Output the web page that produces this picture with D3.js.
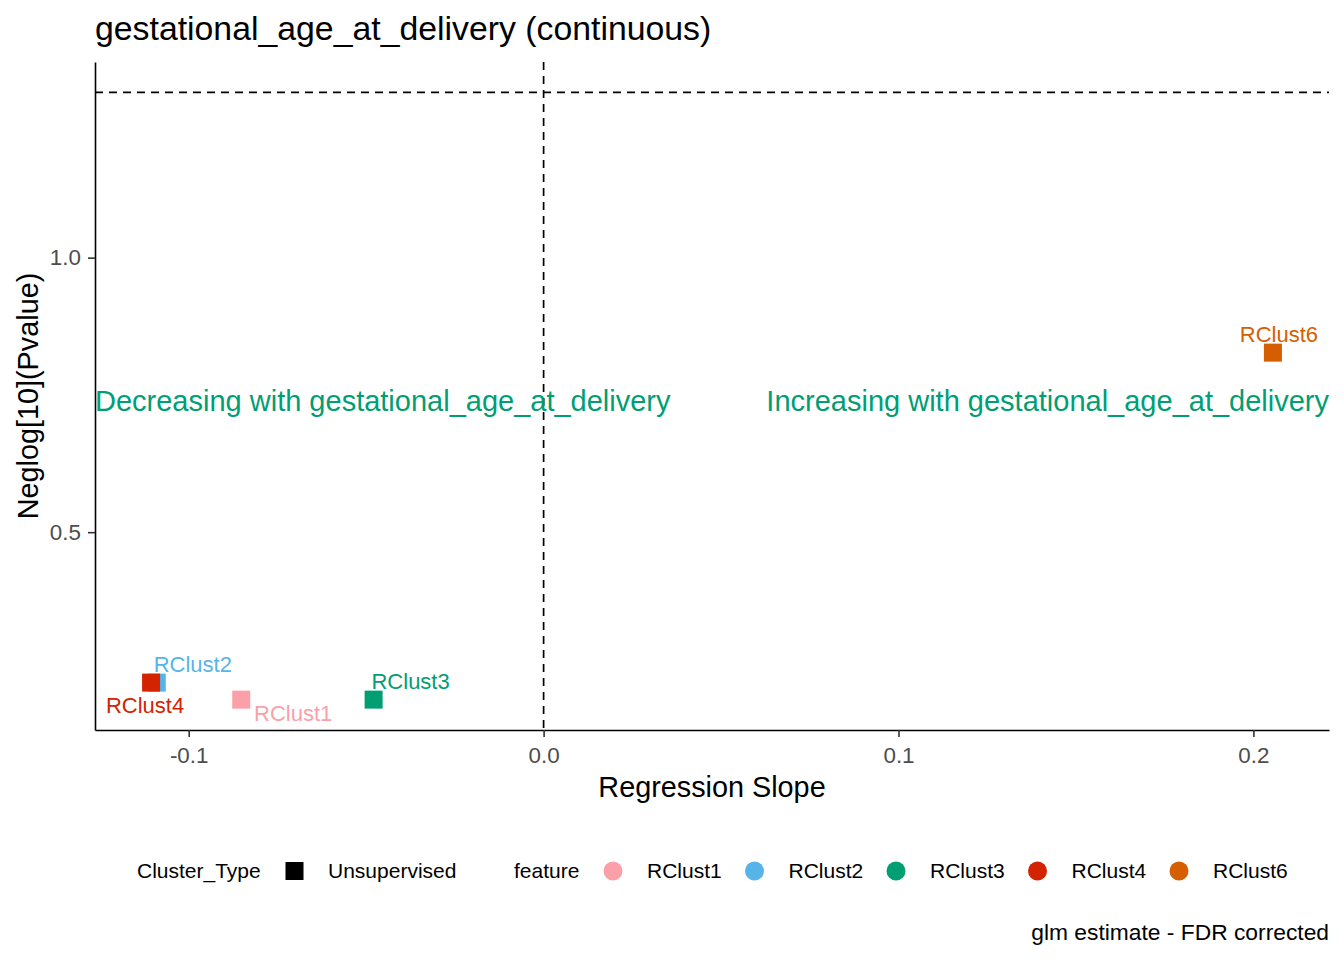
<!DOCTYPE html>
<html>
<head>
<meta charset="utf-8">
<script src="https://cdn.jsdelivr.net/npm/d3@7"></script>
<style>
  body { margin: 0; background: #fff; }
  svg { display: block; }
  text { font-family: "Liberation Sans", Arial, sans-serif; }
</style>
</head>
<body>
<svg id="chart" width="1344" height="960"></svg>
<script>
// data
const features = ['RClust1', 'RClust2', 'RClust3', 'RClust4', 'RClust6']
const slopes = [-0.0852, -0.1090, -0.0479, -0.1106, 0.2055]
const neglogP = [0.195, 0.226, 0.195, 0.226, 0.827]
const featureColors = ['#FB9FA8', '#56B4E9', '#009E73', '#D42300', '#D55E00']
const clusterTypes = ['Unsupervised']
const xTicks = [-0.1, 0, 0.1, 0.2]
const yTicks = [0.5, 1.0]
const sigThreshold = -Math.log10(0.05)
const annotationY = 0.74
const exposure = 'gestational_age_at_delivery'

// layout
const panel = { left: 95, right: 1329, top: 62, bottom: 730 }
const labelNudge = {
  RClust1: [52, 14],
  RClust2: [36, -18],
  RClust3: [37, -18],
  RClust4: [-6, 23],
  RClust6: [6, -18]
}
const green = '#009E73'
const tickGrey = '#4D4D4D'

const svg = d3.select('#chart')

/**
 * ggplot-like continuous expansion: 5% of the range on each side.
 */
function expand (lo, hi) {
  const pad = (hi - lo) * 0.05
  return [lo - pad, hi + pad]
}

const x = d3.scaleLinear()
  .domain(expand(Math.min(d3.min(slopes), 0), Math.max(d3.max(slopes), 0)))
  .range([panel.left, panel.right])

const y = d3.scaleLinear()
  .domain(expand(d3.min(neglogP), Math.max(d3.max(neglogP), sigThreshold)))
  .range([panel.bottom, panel.top])

const fmt = d => d.toFixed(1)

// axes
const gx = svg.append('g')
  .attr('transform', `translate(0,${panel.bottom})`)
  .call(d3.axisBottom(x).tickValues(xTicks).tickFormat(fmt).tickSize(7).tickSizeOuter(0).tickPadding(6))
gx.select('.domain').attr('stroke', '#000').attr('stroke-width', 1.6)
gx.selectAll('.tick line').attr('stroke', '#333').attr('stroke-width', 1.6)
gx.selectAll('.tick text').attr('fill', tickGrey).style('font-size', '22.4px').attr('dy', '0.9em')

const gy = svg.append('g')
  .attr('transform', `translate(${panel.left},0)`)
  .call(d3.axisLeft(y).tickValues(yTicks).tickFormat(fmt).tickSize(7).tickSizeOuter(0).tickPadding(7))
gy.select('.domain').attr('stroke', '#000').attr('stroke-width', 1.6)
gy.selectAll('.tick line').attr('stroke', '#333').attr('stroke-width', 1.6)
gy.selectAll('.tick text').attr('fill', tickGrey).style('font-size', '22.4px')

// reference lines
svg.append('line')
  .attr('x1', panel.left).attr('x2', panel.right)
  .attr('y1', y(sigThreshold)).attr('y2', y(sigThreshold))
  .attr('stroke', '#000').attr('stroke-width', 1.7).attr('stroke-dasharray', '8 6')

svg.append('line')
  .attr('x1', x(0)).attr('x2', x(0))
  .attr('y1', panel.top).attr('y2', panel.bottom)
  .attr('stroke', '#000').attr('stroke-width', 1.7).attr('stroke-dasharray', '8 6')

// direction annotations
svg.append('text')
  .attr('x', panel.left).attr('y', y(annotationY)).attr('dy', '0.35em')
  .attr('fill', green).style('font-size', '29px')
  .text(`Decreasing with ${exposure}`)

svg.append('text')
  .attr('x', panel.right).attr('y', y(annotationY)).attr('dy', '0.35em')
  .attr('text-anchor', 'end')
  .attr('fill', green).style('font-size', '29px')
  .text(`Increasing with ${exposure}`)

// points
const pts = features.map((f, i) => ({ f, sx: slopes[i], sy: neglogP[i], c: featureColors[i] }))
const sq = 18

svg.append('g').selectAll('rect')
  .data(pts)
  .join('rect')
  .attr('x', d => x(d.sx) - sq / 2)
  .attr('y', d => y(d.sy) - sq / 2)
  .attr('width', sq).attr('height', sq)
  .attr('fill', d => d.c)

svg.append('g').selectAll('text')
  .data(pts)
  .join('text')
  .attr('x', d => x(d.sx) + labelNudge[d.f][0])
  .attr('y', d => y(d.sy) + labelNudge[d.f][1])
  .attr('dy', '0.35em')
  .attr('text-anchor', 'middle')
  .attr('fill', d => d.c)
  .style('font-size', '22px')
  .text(d => d.f)

// titles
svg.append('text')
  .attr('x', panel.left).attr('y', 40)
  .style('font-size', '33.8px')
  .text(`${exposure} (continuous)`)

svg.append('text')
  .attr('x', (panel.left + panel.right) / 2).attr('y', 797)
  .attr('text-anchor', 'middle')
  .style('font-size', '28.8px')
  .text('Regression Slope')

svg.append('text')
  .attr('transform', `translate(38,${(panel.top + panel.bottom) / 2}) rotate(-90)`)
  .attr('text-anchor', 'middle')
  .style('font-size', '28.8px')
  .text('Neglog[10](Pvalue)')

// legend
const legY = 871
const leg = svg.append('g').style('font-size', '21px')

leg.append('text').attr('x', 137).attr('y', legY).attr('dy', '0.35em').text('Cluster_Type')
leg.selectAll('rect.key')
  .data(clusterTypes)
  .join('rect')
  .attr('class', 'key')
  .attr('x', 294.5 - 9).attr('y', legY - 9)
  .attr('width', 18).attr('height', 18)
  .attr('fill', '#000')
leg.selectAll('text.ct')
  .data(clusterTypes)
  .join('text')
  .attr('class', 'ct')
  .attr('x', 328).attr('y', legY).attr('dy', '0.35em')
  .text(d => d)

leg.append('text').attr('x', 514).attr('y', legY).attr('dy', '0.35em').text('feature')
const step = 141.5
leg.selectAll('circle')
  .data(pts)
  .join('circle')
  .attr('cx', (d, i) => 613 + i * step)
  .attr('cy', legY)
  .attr('r', 9.5)
  .attr('fill', d => d.c)
leg.selectAll('text.fl')
  .data(pts)
  .join('text')
  .attr('class', 'fl')
  .attr('x', (d, i) => 647 + i * step)
  .attr('y', legY).attr('dy', '0.35em')
  .text(d => d.f)

// caption
svg.append('text')
  .attr('x', panel.right).attr('y', 940)
  .attr('text-anchor', 'end')
  .style('font-size', '22.8px')
  .text('glm estimate - FDR corrected')
</script>
</body>
</html>
